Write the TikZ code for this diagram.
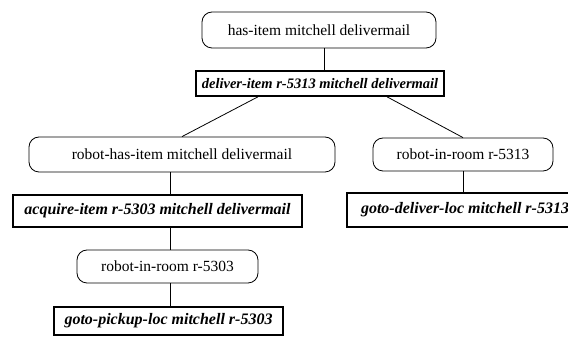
\documentclass[tikz,border=0pt]{standalone}
\usepackage{fontspec}
\setmainfont{Liberation Serif}
\begin{document}
\begin{tikzpicture}[x=1pt,y=1pt]
\tikzset{
    goal/.style={draw, line width=.8pt, rounded corners=10pt, inner sep=0pt,
        font=\fontsize{15.5}{18}\selectfont},
    action/.style={draw, line width=1.6pt, inner sep=0pt,
        font=\fontsize{16}{18}\selectfont\bfseries\itshape},
    link/.style={line width=.8pt}}
\useasboundingbox (0,0) rectangle (568,337);

% goals and the actions that achieve them
\node[goal, minimum width=234, minimum height=36] (hasitem) at (319,307) {has-item mitchell delivermail};
\node[action, minimum width=248, minimum height=25, font=\fontsize{14.5}{18}\selectfont\bfseries\itshape] (deliver) at (320,253.5) {deliver-item r-5313 mitchell delivermail};

\node[goal, minimum width=306, minimum height=35] (robothas) at (182,182.5) {robot-has-item mitchell delivermail};
\node[action, minimum width=289, minimum height=32] (acquire) at (157.5,126) {acquire-item r-5303 mitchell delivermail};
\node[goal, minimum width=181, minimum height=33] (inroomA) at (167.5,70.5) {robot-in-room r-5303};
\node[action, minimum width=229, minimum height=28] (pickup) at (168.5,16) {goto-pickup-loc mitchell r-5303};

\node[goal, minimum width=180, minimum height=33] (inroomB) at (463,182.5) {robot-in-room r-5313};
\node[action, minimum width=236, minimum height=34] (goto) at (465,127) {goto-deliver-loc mitchell r-5313};

\draw[link] (hasitem.south -| 324,0) -- (deliver.north -| 324,0);
\draw[link] ([xshift=-62]deliver.south) -- (robothas.north);
\draw[link] ([xshift=67]deliver.south) -- (inroomB.north);
\draw[link] (robothas.south -| 170,0) -- (acquire.north -| 170,0);
\draw[link] (acquire.south -| 170,0) -- (inroomA.north -| 170,0);
\draw[link] (inroomA.south -| 170,0) -- (pickup.north -| 170,0);
\draw[link] (inroomB.south) -- (inroomB.south |- goto.north);

\end{tikzpicture}
\end{document}
